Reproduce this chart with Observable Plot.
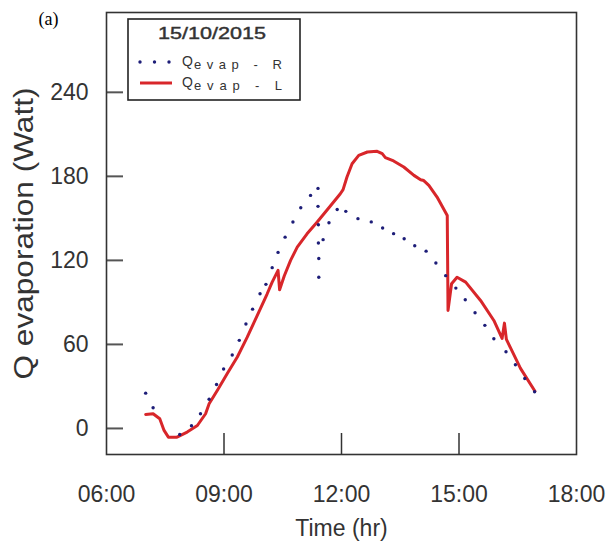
<!DOCTYPE html>
<html><head><meta charset="utf-8">
<script src="https://cdn.jsdelivr.net/npm/d3@7"></script>
<script src="https://cdn.jsdelivr.net/npm/@observablehq/plot@0.6"></script>
<style>
body{margin:0;background:#fff}
#chart{width:607px;height:550px}
</style>
</head><body><div id="chart"></div>
<script>
// Q evap - R (dotted series)
const hoursR = [7.00,7.19,7.87,8.17,8.40,8.62,8.81,8.99,9.21,9.39,9.56,9.73,9.92,10.07,10.23,10.38,10.56,10.76,10.96,11.21,11.40,11.40,11.41,11.41,11.42,11.42,11.53,11.68,11.89,12.11,12.42,12.76,13.05,13.33,13.60,13.87,14.16,14.41,14.66,14.92,15.16,15.41,15.66,15.89,16.20,16.44,16.68,16.93];
const qR = [25.2,14.8,-4.3,1.9,10.5,20.9,31.4,42.4,52.4,62.9,74.6,85.2,96.2,102.9,114.8,125.7,136.6,147.4,157.6,166.4,171.4,158.6,145.5,132.4,121.4,108,134.8,146.9,156.3,155,149.8,147.5,143.1,139.1,135.4,130.4,126.6,118.1,109.1,100.2,91.9,82.6,73.6,64.1,54.8,45.5,35.7,26.2];
// Q evap - L (solid series)
const hoursL = [7.00,7.19,7.36,7.47,7.58,7.80,8.06,8.32,8.53,8.62,8.84,9.08,9.34,9.59,9.85,10.10,10.23,10.38,10.42,10.54,10.70,10.87,11.12,11.38,11.72,11.97,12.04,12.14,12.27,12.44,12.66,12.91,13.04,13.12,13.33,13.59,13.85,14.02,14.10,14.23,14.44,14.70,14.72,14.81,14.95,15.17,15.55,15.89,16.10,16.16,16.21,16.57,16.94];
const qL = [10,10.5,6.9,-1.4,-6.2,-6.2,-2.6,2.1,10.5,17.6,27.6,39,51,65,80.7,96,104.5,112.9,99,109,120,129.5,139,147.4,159,167.6,170.5,179.5,189,195,197.4,197.9,196.2,193.4,191,186.7,180.7,177.6,177,173.6,165.2,152,84.3,103.3,108,104.5,91.4,77.1,64.3,75.2,63.6,42.9,26.6];

const xTicks = [6, 9, 12, 15, 18];
const xInnerTicks = [9, 12, 15];
const yTicks = [0, 60, 120, 180, 240];
const xTickLabels = ["06:00", "09:00", "12:00", "15:00", "18:00"];
const xTitle = "Time (hr)";
const yTitle = "Q evaporation (Watt)";
const panelTag = "(a)";
const legendDate = "15/10/2015";
const legendNames = ["evap - R", "evap - L"];

const dataR = hoursR.map((h, i) => ({h, q: qR[i]}));
const dataL = hoursL.map((h, i) => ({h, q: qL[i]}));

const W = 607, H = 550, mL = 106, mR = 31, mT = 12, mB = 96;
const innerW = W - mL - mR, innerH = H - mT - mB;
const font = "'Liberation Sans', Arial, sans-serif";
const red = "#d8262a", navy = "#1d1d78", ink = "#333";

const chart = Plot.plot({
  width: W, height: H,
  marginLeft: mL, marginRight: mR, marginTop: mT, marginBottom: mB,
  style: {fontFamily: font, background: "#fff", overflow: "visible"},
  x: {domain: [6, 18]},
  y: {domain: [-18.6, 297]},
  marks: [
    Plot.ruleX(xInnerTicks, {stroke: ink, strokeWidth: 1.5, insetTop: innerH - 21}),
    Plot.ruleY(yTicks, {stroke: "#555", strokeWidth: 2, insetRight: innerW - 17}),
    Plot.axisX(xTicks, {tickSize: 0, tickPadding: 31, fontSize: 23, fill: ink, label: null,
      tickFormat: d => xTickLabels[xTicks.indexOf(d)]}),
    Plot.axisY(yTicks, {tickSize: 0, tickPadding: 18, fontSize: 23, fill: ink, label: null}),
    Plot.line(dataL, {x: "h", y: "q", stroke: red, strokeWidth: 3, strokeLinejoin: "round"}),
    Plot.dot(dataR, {x: "h", y: "q", r: 1.7, fill: navy, stroke: "none"}),
    Plot.frame({stroke: ink, strokeWidth: 1.6}),
    Plot.text([xTitle], {frameAnchor: "bottom", dy: 74, lineAnchor: "middle", textAnchor: "middle", fontSize: 23, fill: ink}),
    Plot.text([yTitle], {frameAnchor: "left", dx: -82, rotate: -90, lineAnchor: "middle", textAnchor: "middle", fontSize: 27, fill: ink}),
    Plot.text([panelTag], {frameAnchor: "top-left", dx: -68, dy: 0, fontFamily: "'Liberation Serif', 'Times New Roman', serif", fontSize: 18, fill: "#000"})
  ]
});
document.getElementById("chart").appendChild(chart);

const svg = d3.select(chart);
svg.selectAll("text").filter(function(){ return this.textContent === yTitle; })
  .attr("textLength", 292).attr("lengthAdjust", "spacingAndGlyphs");

// Legend
const lg = svg.append("g").attr("font-family", font).attr("text-anchor", "start");
lg.append("rect").attr("x", 128).attr("y", 19).attr("width", 172).attr("height", 81)
  .attr("fill", "#fff").attr("stroke", "#222").attr("stroke-width", 1.6);
lg.append("text").attr("x", 212).attr("y", 39).attr("text-anchor", "middle")
  .attr("font-size", 16).attr("fill", ink).attr("stroke", ink).attr("stroke-width", 0.4)
  .attr("textLength", 108).attr("lengthAdjust", "spacingAndGlyphs").text(legendDate);
[140, 154.5, 169].forEach(cx => lg.append("circle").attr("cx", cx).attr("cy", 62).attr("r", 1.7).attr("fill", navy));
lg.append("line").attr("x1", 140).attr("x2", 172).attr("y1", 83).attr("y2", 83)
  .attr("stroke", red).attr("stroke-width", 3);
[[66, 69], [87, 90]].forEach(([yq, ys], i) => {
  lg.append("text").attr("x", 182).attr("y", yq).attr("text-anchor", "start")
    .attr("font-size", 14).attr("fill", ink).text("Q");
  lg.append("text").attr("x", 194).attr("y", ys).attr("text-anchor", "start")
    .attr("font-size", 13).attr("fill", ink)
    .attr("textLength", 88).attr("lengthAdjust", "spacing").text(legendNames[i]);
});
</script>
</body></html>
